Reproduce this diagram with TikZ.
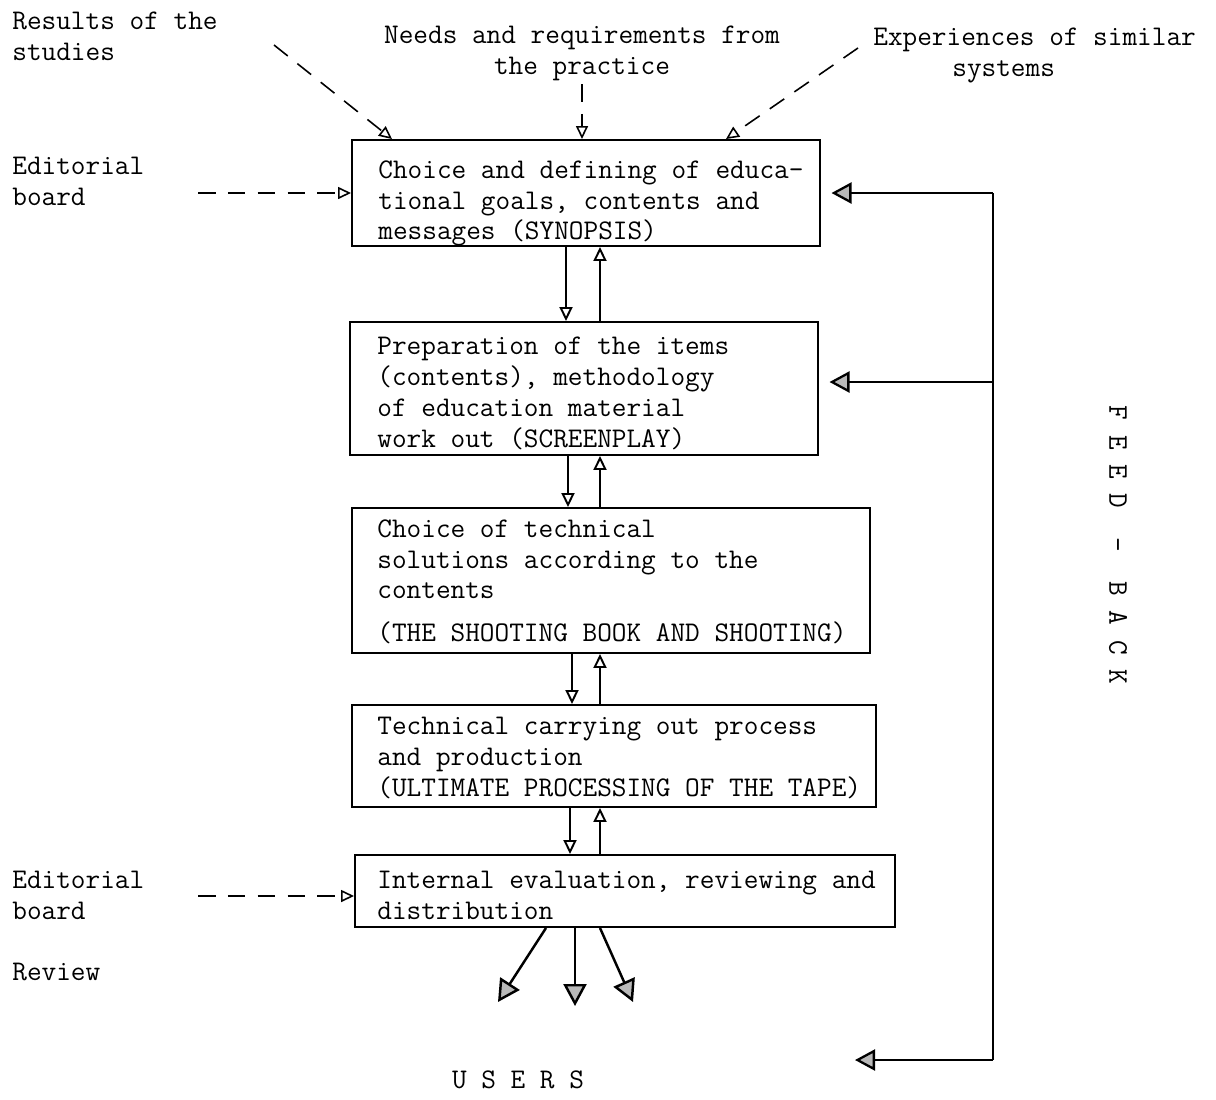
\documentclass[tikz,border=0pt]{standalone}
\usepackage{fontspec}
\usepackage{tikz}
\usetikzlibrary{positioning,arrows.meta,fit,calc}
\newcommand{\tyf}{\ttfamily\fontsize{16.2}{17.6}\selectfont}

\begin{document}
\begin{tikzpicture}[x=0.02cm, y=-0.02cm,
    box/.style={draw, line width=1.1pt, inner sep=0pt},
    txt/.style={anchor=north west, align=left, inner sep=0pt, font=\tyf},
    lbl/.style={inner sep=0pt, font=\tyf},
    flow/.style={-{Triangle[open, length=2.8mm, width=2.6mm]}, line width=1.1pt},
    inp/.style={-{Triangle[open, length=2.6mm, width=2.4mm]}, line width=0.9pt,
      dash pattern=on 10pt off 7pt},
    feed/.style={-{Triangle[fill=gray!55, length=4mm, width=4.2mm]}, line width=1.3pt},
    outp/.style={-{Triangle[fill=gray!55, length=4.4mm, width=4.6mm]}, line width=1.4pt},
  ]
  \useasboundingbox (0,0) rectangle (1216,1099);

  % process boxes
  \node[box, fit={(352,140) (820,246)}] (b1) {};
  \node[box, fit={(350,322) (818,455)}] (b2) {};
  \node[box, fit={(352,508) (870,653)}] (b3) {};
  \node[box, fit={(352,705) (876,807)}] (b4) {};
  \node[box, fit={(355,855) (895,927)}] (b5) {};

  \node[txt] (t1) at ([shift={(27,21)}]b1.north west) {Choice and defining of educa-\\tional goals, contents and\\messages (SYNOPSIS)};
  \node[txt] (t2) at ([shift={(28,16)}]b2.north west) {Preparation of the items\\(contents), methodology\\of education material\\work out (SCREENPLAY)};
  \node[txt] (t3) at ([shift={(26,12)}]b3.north west) {Choice of technical\\solutions according to the\\contents\\[0.24cm](THE SHOOTING BOOK AND SHOOTING)};
  \node[txt] (t4) at ([shift={(26,13)}]b4.north west) {Technical carrying out process\\and production\\(ULTIMATE PROCESSING OF THE TAPE)};
  \node[txt] (t5) at ([shift={(23,17)}]b5.north west) {Internal evaluation, reviewing and\\distribution};

  % inputs
  \node[txt] (res) at (12,12) {Results of the\\studies};
  \node[lbl, anchor=north, align=center] (need) at (582,26) {Needs and requirements from\\the practice};
  \node[txt] (exp) at (873,28) {Experiences of similar\\\hspace*{1.58cm}systems};
  \node[txt] (ed1) at (12,157) {Editorial\\board};
  \node[txt] (ed2) at (12,871) {Editorial\\board};
  \node[txt] (rev) at (12,963) {Review};
  \node[lbl] (users) at (518,1080) {U S E R S};
  \node[lbl, rotate=-90] (fbk) at (1118,545) {F E E D\ \ -\ \ B A C K};

  \coordinate (r0) at (274,45);
  \coordinate (n0) at (582,84);
  \coordinate (e0) at (858,48);
  \coordinate (d1) at (198,193);
  \coordinate (d2) at (198,896);
  \draw[inp] (r0) -- (b1.north -| 392,0);
  \draw[inp] (n0) -- (b1.north -| 582,0);
  \draw[inp] (e0) -- (b1.north -| 726,0);
  \draw[inp] (d1) -- (b1.west);
  \draw[inp] (d2) -- (b5.west |- d2);

  % steps down and back up
  \foreach \a/\b/\dx in {b1/b2/566, b2/b3/568, b3/b4/572, b4/b5/570} {
    \draw[flow] (\a.south -| \dx,0) -- (\b.north -| \dx,0);
    \draw[flow] (\b.north -| 600,0) -- (\a.south -| 600,0);
  }

  % feed-back
  \coordinate (f1) at (993,193);
  \coordinate (f2) at (993,382);
  \coordinate (f3) at (993,1060);
  \coordinate (u0) at (855,1060);
  \draw[line width=1.3pt] (f1) -- (f3);
  \draw[feed, shorten >=6pt] (f1) -- (b1.east |- f1);
  \draw[feed, shorten >=6pt] (f2) -- (b2.east |- f2);
  \draw[feed] (f3) -- (u0);

  % out to the users
  \coordinate (o1) at (498,1002);
  \coordinate (o2) at (575,1006);
  \coordinate (o3) at (633,1002);
  \draw[outp] (b5.south -| 546,0) -- (o1);
  \draw[outp] (b5.south -| 575,0) -- (o2);
  \draw[outp] (b5.south -| 600,0) -- (o3);
\end{tikzpicture}
\end{document}
